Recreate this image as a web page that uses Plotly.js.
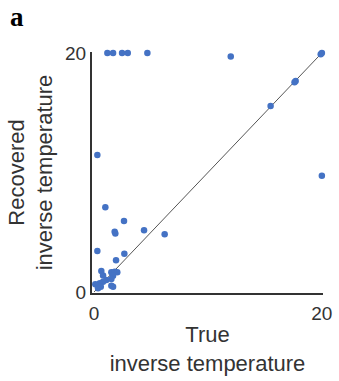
<!DOCTYPE html>
<html>
<head>
<meta charset="utf-8">
<script src="https://cdn.plot.ly/plotly-3.0.1.min.js"></script>
<style>html,body{margin:0;padding:0;background:#fff;}#chart{width:339px;height:381px;}</style>
</head>
<body>
<div id="chart"></div>
<script>
const trueBeta = [1.17, 1.67, 2.46, 2.96, 4.68, 12.0, 20.0, 19.9, 17.7, 17.6, 15.5, 20.0,
  0.29, 0.99, 2.63, 1.81, 1.87, 4.39, 6.2, 0.29, 2.66, 1.93,
  0.64, 0.79, 1.52, 1.81, 2.04, 1.67, 1.52, 1.08, 0.79, 0.5, 0.29, 0.11, 0.35, 1.52, 1.67, 0.59];
const recoveredBeta = [20.0, 20.0, 20.0, 20.0, 20.0, 19.7, 20.0, 19.9, 17.65, 17.55, 15.56, 9.73,
  11.46, 7.1, 5.94, 5.05, 4.9, 5.16, 4.83, 3.43, 3.2, 2.65,
  1.76, 1.37, 1.65, 1.7, 1.65, 1.36, 1.09, 1.0, 0.86, 0.73, 0.59, 0.64, 0.31, 0.53, 0.44, 0.44];
const identityLine = [0, 20];
const tickVals = [0, 20];
const tickText = ['0', '20'];

const traces = [
  {x: identityLine, y: identityLine, mode: 'lines', type: 'scatter',
   line: {color: '#555555', width: 1}, hoverinfo: 'skip'},
  {x: trueBeta, y: recoveredBeta, mode: 'markers', type: 'scatter',
   marker: {color: '#4472C4', size: 6.5}, cliponaxis: false}
];

const layout = {
  width: 339, height: 381,
  margin: {l: 92, r: 16, t: 52, b: 88},
  paper_bgcolor: '#ffffff', plot_bgcolor: '#ffffff',
  showlegend: false,
  font: {family: 'Liberation Sans, Arial, sans-serif', color: '#333333'},
  xaxis: {
    range: [-0.18, 20.1], showgrid: false, zeroline: false,
    showline: true, linecolor: '#333333', linewidth: 2,
    ticks: '', tickvals: tickVals, ticktext: tickText,
    tickfont: {size: 19, color: '#333333'}, ticklabelstandoff: 2,
    title: {text: 'True<br>inverse temperature', font: {size: 22, color: '#333333'}, standoff: 4},
    automargin: false
  },
  yaxis: {
    range: [-0.084, 20.08], showgrid: false, zeroline: false,
    showline: true, linecolor: '#333333', linewidth: 2,
    ticks: '', tickvals: tickVals, ticktext: tickText,
    tickfont: {size: 19, color: '#333333'}, ticklabelstandoff: 0,
    title: {text: 'Recovered<br>inverse temperature', font: {size: 22, color: '#333333'}, standoff: 6},
    automargin: false
  },
  annotations: [
    {text: '<b>a</b>', xref: 'paper', yref: 'paper', x: 0, y: 1, xanchor: 'left', yanchor: 'top',
     showarrow: false, font: {family: 'Liberation Serif, Times New Roman, serif', size: 27, color: '#000000'},
     xshift: -84, yshift: 52}
  ]
};

Plotly.newPlot('chart', traces, layout, {displayModeBar: false, staticPlot: true});
</script>
</body>
</html>
